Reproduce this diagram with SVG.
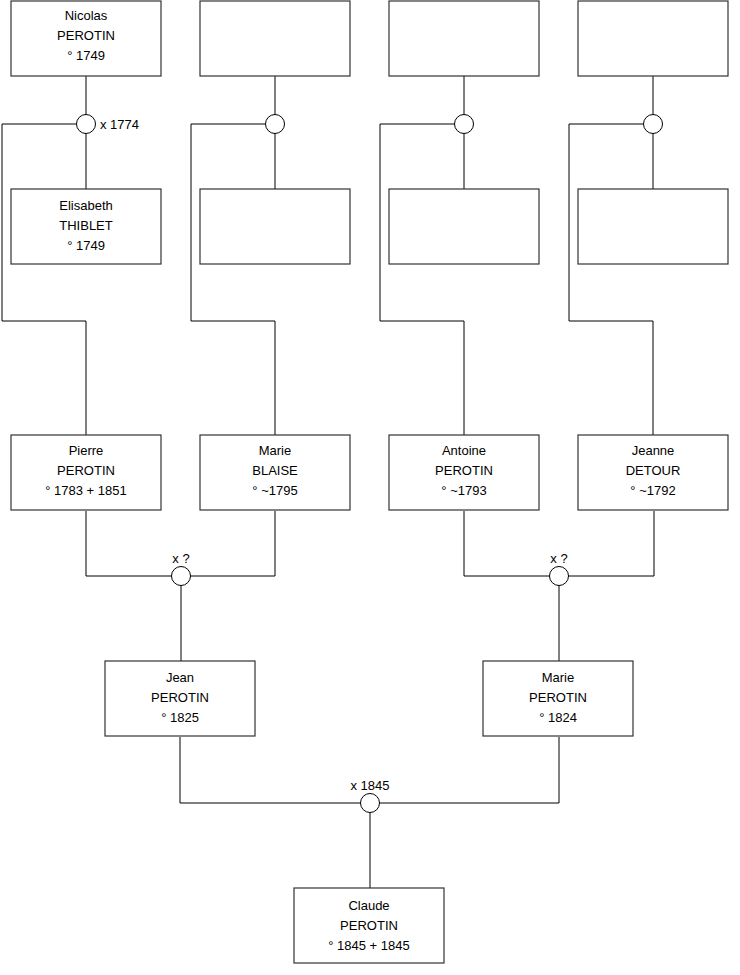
<svg xmlns="http://www.w3.org/2000/svg" width="740" height="975" viewBox="0 0 740 975">
<style>
.box{fill:#fff;stroke:#333;stroke-width:1.2}
.ln{fill:none;stroke:#000;stroke-width:1}
.ring{fill:#fff;stroke:#000;stroke-width:1}
text{font-family:"Liberation Sans",Arial,sans-serif;font-size:13px;fill:#000}
.c{text-anchor:middle}
</style>
<rect width="740" height="975" fill="#fff"/>
<g id="connectors">
<path class="ln" d="M86 76V189M76 124H2V321H86V435"/>
<path class="ln" d="M275 76V189M265 124H191V321H275V435"/>
<path class="ln" d="M464 76V189M454 124H380V321H464V435"/>
<path class="ln" d="M653 76V189M643 124H569V321H653V435"/>
<path class="ln" d="M86 511V576H275V511M181 576V661"/>
<path class="ln" d="M464 511V576H654V511M559 576V661"/>
<path class="ln" d="M180 737V803H559V737M370 803V888"/>
</g>
<g id="unions">
<circle class="ring" cx="86" cy="124" r="9.5"/>
<circle class="ring" cx="275" cy="124" r="9.5"/>
<circle class="ring" cx="464" cy="124" r="9.5"/>
<circle class="ring" cx="653" cy="124" r="9.5"/>
<circle class="ring" cx="181" cy="576" r="9.5"/>
<circle class="ring" cx="559" cy="576" r="9.5"/>
<circle class="ring" cx="370" cy="803" r="9.5"/>
<text x="100" y="129">x 1774</text>
<text class="c" x="181" y="563">x ?</text>
<text class="c" x="559" y="563">x ?</text>
<text class="c" x="370" y="790">x 1845</text>
</g>
<g id="n-nicolas"><rect class="box" x="11" y="1" width="150" height="75"/>
<text class="c" x="86" y="20">Nicolas</text><text class="c" x="86" y="40">PEROTIN</text><text class="c" x="86" y="60">° 1749</text></g>
<g id="n-top2"><rect class="box" x="200" y="1" width="150" height="75"/></g>
<g id="n-top3"><rect class="box" x="389" y="1" width="150" height="75"/></g>
<g id="n-top4"><rect class="box" x="578" y="1" width="150" height="75"/></g>
<g id="n-elisabeth"><rect class="box" x="11" y="189" width="150" height="75"/>
<text class="c" x="86" y="210">Elisabeth</text><text class="c" x="86" y="230">THIBLET</text><text class="c" x="86" y="250">° 1749</text></g>
<g id="n-mid2"><rect class="box" x="200" y="189" width="150" height="75"/></g>
<g id="n-mid3"><rect class="box" x="389" y="189" width="150" height="75"/></g>
<g id="n-mid4"><rect class="box" x="578" y="189" width="150" height="75"/></g>
<g id="n-pierre"><rect class="box" x="11" y="435" width="150" height="75"/>
<text class="c" x="86" y="455">Pierre</text><text class="c" x="86" y="475">PEROTIN</text><text class="c" x="86" y="495">° 1783 + 1851</text></g>
<g id="n-marie-blaise"><rect class="box" x="200" y="435" width="150" height="75"/>
<text class="c" x="275" y="455">Marie</text><text class="c" x="275" y="475">BLAISE</text><text class="c" x="275" y="495">° ~1795</text></g>
<g id="n-antoine"><rect class="box" x="389" y="435" width="150" height="75"/>
<text class="c" x="464" y="455">Antoine</text><text class="c" x="464" y="475">PEROTIN</text><text class="c" x="464" y="495">° ~1793</text></g>
<g id="n-jeanne"><rect class="box" x="578" y="435" width="150" height="75"/>
<text class="c" x="653" y="455">Jeanne</text><text class="c" x="653" y="475">DETOUR</text><text class="c" x="653" y="495">° ~1792</text></g>
<g id="n-jean"><rect class="box" x="105" y="661" width="150" height="75"/>
<text class="c" x="180" y="682">Jean</text><text class="c" x="180" y="702">PEROTIN</text><text class="c" x="180" y="722">° 1825</text></g>
<g id="n-marie-perotin"><rect class="box" x="483" y="661" width="150" height="75"/>
<text class="c" x="558" y="682">Marie</text><text class="c" x="558" y="702">PEROTIN</text><text class="c" x="558" y="722">° 1824</text></g>
<g id="n-claude"><rect class="box" x="294" y="888" width="150" height="75"/>
<text class="c" x="369" y="910">Claude</text><text class="c" x="369" y="930">PEROTIN</text><text class="c" x="369" y="950">° 1845 + 1845</text></g>
</svg>
